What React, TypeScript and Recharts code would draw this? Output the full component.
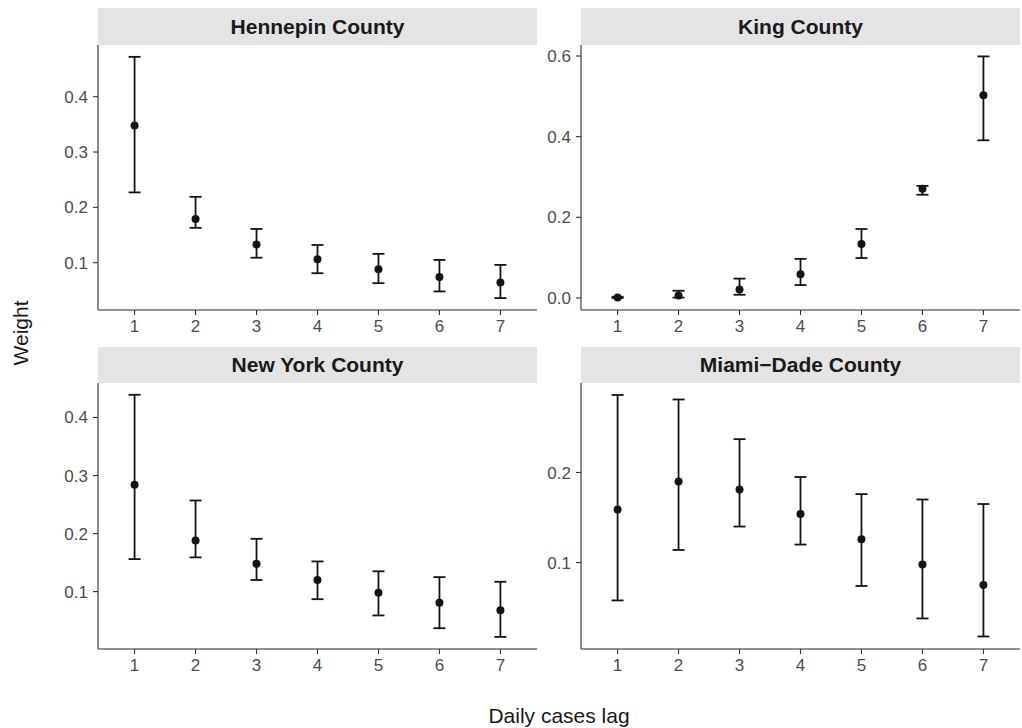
import { ScatterChart, Scatter, XAxis, YAxis, ErrorBar } from "recharts";

const lags = [1, 2, 3, 4, 5, 6, 7];

const hennepinMean = [0.348, 0.179, 0.133, 0.106, 0.088, 0.074, 0.064];
const hennepinLower = [0.227, 0.163, 0.109, 0.081, 0.063, 0.048, 0.036];
const hennepinUpper = [0.472, 0.219, 0.161, 0.132, 0.116, 0.105, 0.096];

const kingMean = [0.001, 0.006, 0.021, 0.059, 0.134, 0.271, 0.503];
const kingLower = [0.0, 0.001, 0.008, 0.032, 0.099, 0.256, 0.391];
const kingUpper = [0.003, 0.018, 0.048, 0.097, 0.171, 0.278, 0.599];

const newYorkMean = [0.284, 0.188, 0.148, 0.12, 0.098, 0.081, 0.068];
const newYorkLower = [0.156, 0.159, 0.12, 0.087, 0.059, 0.037, 0.022];
const newYorkUpper = [0.439, 0.257, 0.191, 0.152, 0.135, 0.125, 0.117];

const miamiMean = [0.159, 0.19, 0.181, 0.154, 0.126, 0.098, 0.075];
const miamiLower = [0.058, 0.114, 0.14, 0.12, 0.074, 0.038, 0.018];
const miamiUpper = [0.286, 0.281, 0.237, 0.195, 0.176, 0.17, 0.165];

const FONT = '"Liberation Sans", Arial, Helvetica, sans-serif';
const AXIS = "#6e6e6e";
const TICK_TEXT = "#4d4d4d";
const INK = "#141414";

type Panel = {
  title: string;
  mean: number[];
  lower: number[];
  upper: number[];
  domain: [number, number];
  ticks: number[];
  plotLeft: number;
  chartLeft: number;
  plotRight: number;
  stripTop: number;
  plotTop: number;
  plotBottom: number;
};

const panels: Panel[] = [
  {
    title: "Hennepin County",
    mean: hennepinMean, lower: hennepinLower, upper: hennepinUpper,
    domain: [0.0145, 0.4934], ticks: [0.1, 0.2, 0.3, 0.4],
    chartLeft: 0, plotLeft: 98, plotRight: 537, stripTop: 8, plotTop: 45, plotBottom: 310,
  },
  {
    title: "King County",
    mean: kingMean, lower: kingLower, upper: kingUpper,
    domain: [-0.0298, 0.6273], ticks: [0, 0.2, 0.4, 0.6],
    chartLeft: 537, plotLeft: 581, plotRight: 1020, stripTop: 8, plotTop: 45, plotBottom: 310,
  },
  {
    title: "New York County",
    mean: newYorkMean, lower: newYorkLower, upper: newYorkUpper,
    domain: [0.0012, 0.4593], ticks: [0.1, 0.2, 0.3, 0.4],
    chartLeft: 0, plotLeft: 98, plotRight: 537, stripTop: 347, plotTop: 383, plotBottom: 649,
  },
  {
    title: "Miami\u2212Dade County",
    mean: miamiMean, lower: miamiLower, upper: miamiUpper,
    domain: [0.0041, 0.2993], ticks: [0.1, 0.2],
    chartLeft: 537, plotLeft: 581, plotRight: 1020, stripTop: 347, plotTop: 383, plotBottom: 649,
  },
];

const tickStyle = { fontSize: 17, fill: TICK_TEXT, fontFamily: FONT };

function Dot(props: { cx?: number; cy?: number }) {
  if (props.cx == null || props.cy == null) return null;
  return <circle cx={props.cx} cy={props.cy} r={4} fill={INK} />;
}

function PanelChart({ p }: { p: Panel }) {
  const rows = lags.map((lag, i) => ({
    lag,
    mean: p.mean[i],
    err: [p.mean[i] - p.lower[i], p.upper[i] - p.mean[i]],
  }));
  const xAxisH = 40;
  const width = p.plotRight - p.chartLeft;
  const height = p.plotBottom - p.plotTop + xAxisH;
  const fmt = (v: number) => v.toFixed(1);

  return (
    <>
      <div
        style={{
          position: "absolute",
          left: p.plotLeft,
          top: p.stripTop,
          width: p.plotRight - p.plotLeft,
          height: p.plotTop - p.stripTop,
          background: "#e3e4e3",
          color: "#1a1a1a",
          fontFamily: FONT,
          fontWeight: "bold",
          fontSize: 21,
          lineHeight: `${p.plotTop - p.stripTop}px`,
          textAlign: "center",
        }}
      >
        {p.title}
      </div>
      <div style={{ position: "absolute", left: p.chartLeft, top: p.plotTop }}>
        <ScatterChart width={width} height={height} margin={{ top: 0, right: 0, bottom: 0, left: 0 }}>
          <XAxis
            type="number"
            dataKey="lag"
            domain={[0.4, 7.6]}
            ticks={lags}
            allowDataOverflow
            height={xAxisH}
            tick={tickStyle}
            tickSize={5}
            tickMargin={5}
            axisLine={{ stroke: AXIS, strokeWidth: 1.6 }}
            tickLine={{ stroke: "#333", strokeWidth: 1.1 }}
          />
          <YAxis
            type="number"
            dataKey="mean"
            domain={p.domain}
            ticks={p.ticks}
            allowDataOverflow
            width={p.plotLeft - p.chartLeft}
            tickFormatter={fmt}
            tick={tickStyle}
            tickSize={5}
            tickMargin={5}
            axisLine={{ stroke: AXIS, strokeWidth: 1.6 }}
            tickLine={{ stroke: "#333", strokeWidth: 1.1 }}
          />
          <Scatter data={rows} fill={INK} shape={<Dot />} isAnimationActive={false}>
            <ErrorBar dataKey="err" direction="y" width={6} stroke={INK} strokeWidth={1.8} />
          </Scatter>
        </ScatterChart>
      </div>
    </>
  );
}

export default function App() {
  return (
    <div style={{ position: "absolute", left: 0, top: 0, width: 1022, height: 728, background: "#fff", fontFamily: FONT }}>
      {panels.map(p => (
        <PanelChart key={p.title} p={p} />
      ))}
      <div
        style={{
          position: "absolute",
          left: 21,
          top: 333,
          transform: "translate(-50%, -50%) rotate(-90deg)",
          fontSize: 21,
          color: "#1a1a1a",
          whiteSpace: "nowrap",
        }}
      >
        Weight
      </div>
      <div
        style={{
          position: "absolute",
          left: 559,
          top: 716,
          transform: "translate(-50%, -50%)",
          fontSize: 21,
          color: "#1a1a1a",
          whiteSpace: "nowrap",
        }}
      >
        Daily cases lag
      </div>
    </div>
  );
}
